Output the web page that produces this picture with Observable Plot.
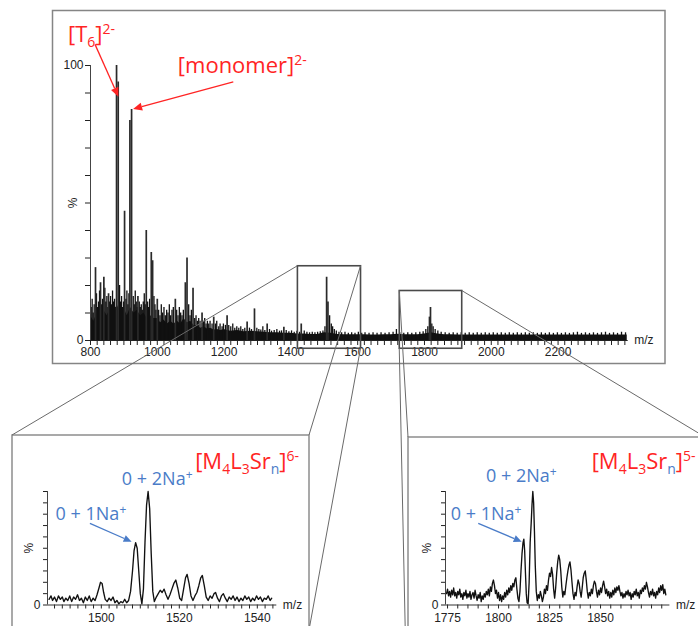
<!DOCTYPE html>
<html>
<head>
<meta charset="utf-8">
<script src="https://cdn.jsdelivr.net/npm/d3@7"></script>
<script src="https://cdn.jsdelivr.net/npm/@observablehq/plot@0.6"></script>
<style>
  html, body { margin: 0; padding: 0; background: #fff; }
  #figure { position: relative; width: 698px; height: 626px; overflow: hidden; background: #fff; }
  #figure svg { position: absolute; }
</style>
</head>
<body>
<div id="figure"></div>
<script>
// ---------- Full-range spectrum (m/z 800–2410, % relative intensity) ----------
// Labelled major peaks: [m/z, %]
const mainPeaks = [
  [815, 26.5], [830, 21], [840, 23], [854, 17], [878, 100], [883, 94], [902, 47],
  [918, 80], [923, 84], [942, 16], [967, 40], [982, 32], [986, 29], [1000, 15],
  [1054, 15], [1084, 21], [1089, 30], [1107, 19], [1134, 10], [1169, 8.5], [1209, 9],
  [1269, 6.7], [1291, 11.5], [1329, 6], [1379, 4.8], [1431, 6], [1507, 23], [1511, 14],
  [1815, 8.5], [1818, 12]
];
// Dense chemical-noise floor: [m/z, %]
const mainFloor = [
  [800, 9], [810, 7], [820, 10], [830, 8], [840, 11], [850, 9], [860, 12], [870, 10], [880, 13], [890, 10],
  [900, 12], [910, 9], [920, 12], [930, 10], [940, 11], [950, 9], [960, 10], [970, 8], [980, 9], [990, 8],
  [1000, 8], [1010, 6.5], [1020, 7.5], [1030, 6], [1040, 7], [1050, 6], [1060, 7], [1070, 6], [1080, 8], [1090, 6.5],
  [1100, 7], [1110, 5.5], [1120, 5.5], [1130, 4.5], [1140, 5], [1150, 4.2], [1160, 4.5], [1170, 3.8], [1180, 4], [1190, 3.6],
  [1200, 4], [1220, 3.4], [1240, 3.6], [1260, 3.2], [1280, 3.4], [1300, 3.2], [1320, 3], [1340, 2.8], [1360, 2.8], [1380, 2.6],
  [1400, 2.6], [1420, 2.4], [1440, 2.4], [1460, 2.2], [1480, 2.2], [1500, 2.8], [1520, 2.6], [1540, 2.2], [1560, 2.1], [1580, 2.1],
  [1600, 2.1], [1620, 2.1], [1640, 2], [1660, 2], [1680, 2.1], [1700, 2.1], [1720, 2.3], [1740, 2.1], [1760, 2.1], [1780, 2.1],
  [1800, 2.4], [1820, 2.8], [1840, 2.4], [1860, 2.1], [1880, 2.1], [1900, 2], [1940, 2], [1980, 2], [2020, 2], [2060, 2],
  [2100, 2], [2140, 2], [2180, 2], [2220, 2], [2260, 2], [2300, 2], [2340, 2], [2380, 2], [2407, 2]
];
// Minor peaks riding on the noise: [m/z, %]
const mainSticks = [
  [802, 12], [805, 15], [808, 10], [811, 13], [818, 17], [821, 12], [824, 14], [827, 18], [833, 13], [836, 15],
  [843, 19], [846, 14], [849, 16], [852, 12], [857, 14], [860, 16], [863, 13], [866, 18], [869, 14], [872, 15],
  [875, 12], [887, 20], [890, 14], [893, 16], [896, 12], [899, 14], [906, 15], [909, 18], [912, 13], [915, 17],
  [928, 16], [931, 13], [934, 18], [937, 14], [940, 12], [946, 14], [949, 12], [952, 13], [955, 11], [958, 14],
  [961, 17], [964, 13], [971, 14], [974, 12], [977, 15], [990, 16], [993, 13], [996, 11],
  [1004, 11], [1008, 9], [1012, 13], [1016, 10], [1020, 12], [1024, 9], [1028, 11], [1032, 10], [1036, 13], [1040, 9],
  [1044, 11], [1048, 12], [1058, 11], [1062, 9], [1066, 12], [1070, 10], [1074, 9], [1078, 11], [1094, 13], [1098, 9],
  [1102, 11], [1112, 8], [1116, 9], [1120, 7], [1124, 8], [1128, 7], [1138, 7], [1142, 8], [1146, 6], [1150, 7],
  [1154, 6], [1158, 7], [1164, 6], [1174, 6], [1178, 7], [1184, 5], [1188, 6], [1194, 5], [1198, 6], [1204, 5.5],
  [1214, 5.5], [1220, 5], [1226, 6], [1232, 4.5], [1238, 5], [1244, 4.5], [1250, 5], [1256, 4], [1262, 4.5], [1276, 4.5],
  [1282, 4], [1298, 4.5], [1304, 4], [1310, 3.8], [1316, 5], [1322, 3.6], [1336, 4], [1342, 3.4], [1350, 3.6], [1358, 4],
  [1366, 3.4], [1372, 3.5], [1386, 3.6], [1394, 3.2], [1402, 3.5], [1410, 3], [1418, 3.4], [1426, 3], [1440, 3.5], [1448, 3],
  [1456, 2.8], [1464, 3], [1472, 2.8], [1480, 3], [1488, 3.2], [1496, 3.5], [1502, 5], [1516, 9], [1521, 6], [1525, 5],
  [1530, 4], [1536, 3.5], [1544, 3], [1552, 2.8], [1562, 3], [1572, 2.6], [1582, 2.8], [1592, 2.6], [1602, 3], [1612, 2.6],
  [1622, 2.8], [1634, 2.6], [1646, 2.8], [1658, 2.6], [1670, 2.8], [1682, 2.6], [1694, 2.8], [1706, 3], [1716, 4], [1726, 2.8],
  [1738, 2.6], [1750, 2.8], [1762, 2.6], [1774, 2.8], [1786, 3], [1796, 3.2], [1804, 4], [1810, 5], [1822, 6], [1826, 5],
  [1832, 4], [1840, 3.5], [1850, 3], [1862, 2.8], [1874, 2.6], [1886, 2.8], [1898, 2.6], [1910, 2.8], [1922, 2.6], [1934, 2.8],
  [1946, 2.6], [1958, 2.8], [1970, 2.6], [1982, 2.8], [1994, 2.6], [2006, 2.8], [2018, 2.6], [2030, 2.8], [2042, 2.6], [2054, 2.8],
  [2066, 2.6], [2078, 2.8], [2090, 2.6], [2102, 2.8], [2114, 2.6], [2126, 2.8], [2138, 2.6], [2150, 2.8], [2162, 2.6], [2174, 2.8],
  [2186, 2.6], [2198, 2.8], [2210, 2.6], [2222, 2.8], [2234, 2.6], [2246, 2.8], [2258, 3], [2270, 2.6], [2282, 2.8], [2294, 2.6],
  [2306, 2.8], [2318, 2.6], [2330, 2.8], [2342, 3], [2354, 2.6], [2366, 2.8], [2378, 2.6], [2390, 3], [2402, 2.8]
];
// Expanded windows marked on the full spectrum (m/z range, % range)
const zoomWindows = [
  {x1: 1421, x2: 1610, y1: -3, y2: 27},
  {x1: 1726, x2: 1913, y1: -3, y2: 18}
];

// ---------- Expansion of the 6- charge state (m/z, %) ----------
const leftProfile = [
  [1486.6,5],[1487.1,8],[1487.5,4],[1488,7],[1488.5,3],[1489,8],[1489.5,5],[1490,7],[1490.4,3],[1490.9,6],
  [1491.4,4],[1491.9,8],[1492.4,3],[1492.9,7],[1493.4,5],[1493.9,9],[1494.4,4],[1494.9,6],[1495.4,2],[1495.9,7],
  [1496.4,4],[1496.9,8],[1497.4,3],[1497.9,6],[1498.4,4],[1498.9,9],[1499.4,15],[1499.8,20],[1500.2,19],[1500.6,11],
  [1501,5],[1501.5,3],[1502,6],[1502.5,4],[1503,7],[1503.5,2],[1504,4],[1504.5,1],[1505,3],[1505.5,2],
  [1506,5],[1506.5,2],[1507,4],[1507.5,12],[1508,30],[1508.4,48],[1508.8,55],[1509.2,50],[1509.6,30],[1510,10],
  [1510.4,1],[1510.8,14],[1511.2,55],[1511.6,88],[1512,100],[1512.4,85],[1512.8,45],[1513.2,12],[1513.6,3],[1514.1,7],
  [1514.6,10],[1515.1,13],[1515.6,11],[1516.1,14],[1516.6,9],[1517.1,5],[1517.6,9],[1518.1,14],[1518.6,19],[1519.1,22],
  [1519.6,15],[1520.1,6],[1520.6,4],[1521.1,14],[1521.6,24],[1522,27],[1522.5,19],[1523,8],[1523.5,4],[1524,8],
  [1524.5,11],[1525,17],[1525.5,24],[1525.9,26],[1526.4,17],[1526.9,7],[1527.4,4],[1527.9,8],[1528.4,6],[1528.9,10],
  [1529.3,11],[1529.8,6],[1530.3,3],[1530.8,8],[1531.3,10],[1531.8,6],[1532.3,3],[1532.8,7],[1533.3,5],[1533.8,8],
  [1534.3,4],[1534.8,7],[1535.3,3],[1535.8,6],[1536.3,4],[1536.8,8],[1537.3,5],[1537.8,7],[1538.3,3],[1538.8,6],
  [1539.3,4],[1539.8,8],[1540.3,5],[1540.8,7],[1541.3,3],[1541.8,6],[1542.3,5],[1542.8,8],[1543.3,4],[1543.7,6]
];

// ---------- Expansion of the 5- charge state (m/z, %) ----------
const rightProfile = [
  [1774.5,10],[1775,14],[1775.5,8],[1776,12],[1776.5,7],[1777,13],[1777.5,9],[1778,15],[1778.5,8],[1779,11],
  [1779.5,6],[1780,12],[1780.5,9],[1781,14],[1781.5,7],[1782,10],[1782.5,5],[1783,11],[1783.5,8],[1784,13],
  [1784.5,6],[1785,10],[1785.5,7],[1786,12],[1786.5,5],[1787,9],[1787.5,11],[1788,6],[1788.5,13],[1789,8],
  [1789.5,4],[1790,9],[1790.5,6],[1791,11],[1791.5,3],[1792,8],[1792.5,5],[1793,10],[1793.5,7],[1794,12],
  [1794.5,9],[1795,14],[1795.5,8],[1796,16],[1796.5,12],[1797,19],[1797.5,22],[1798,17],[1798.5,10],[1799,13],
  [1799.5,6],[1800,11],[1800.5,4],[1801,9],[1801.5,3],[1802,8],[1802.5,5],[1803,11],[1803.5,7],[1804,13],
  [1804.5,9],[1805,15],[1805.5,11],[1806,17],[1806.5,13],[1807,19],[1807.5,16],[1808,22],[1808.5,24],[1809,14],
  [1809.5,6],[1810,3],[1810.5,12],[1811,30],[1811.5,45],[1812,55],[1812.4,58],[1812.8,48],[1813.2,28],[1813.6,10],
  [1814,2],[1814.5,1],[1815,20],[1815.5,55],[1816,72],[1816.4,88],[1816.8,100],[1817.2,90],[1817.6,65],[1818,35],
  [1818.5,12],[1819,4],[1819.5,9],[1820,6],[1820.5,12],[1821,8],[1821.5,3],[1822,7],[1822.5,14],[1823,10],
  [1823.5,17],[1824,13],[1824.5,22],[1825,28],[1825.5,25],[1826,33],[1826.5,27],[1827,14],[1827.5,6],[1828,15],
  [1828.5,28],[1829,38],[1829.5,44],[1830,40],[1830.5,30],[1831,16],[1831.5,7],[1832,12],[1832.5,9],[1833,17],
  [1833.5,24],[1834,30],[1834.5,35],[1835,38],[1835.5,31],[1836,20],[1836.5,10],[1837,5],[1837.5,11],[1838,8],
  [1838.5,16],[1839,22],[1839.5,19],[1840,12],[1840.5,7],[1841,15],[1841.5,24],[1842,28],[1842.5,30],[1843,22],
  [1843.5,12],[1844,6],[1844.5,11],[1845,8],[1845.5,14],[1846,10],[1846.5,17],[1847,21],[1847.5,19],[1848,12],
  [1848.5,7],[1849,13],[1849.5,9],[1850,15],[1850.5,11],[1851,17],[1851.5,21],[1852,16],[1852.5,10],[1853,14],
  [1853.5,8],[1854,12],[1854.5,6],[1855,11],[1855.5,7],[1856,13],[1856.5,9],[1857,15],[1857.5,11],[1858,16],
  [1858.5,13],[1859,17],[1859.5,12],[1860,8],[1860.5,11],[1861,6],[1861.5,10],[1862,7],[1862.5,12],[1863,9],
  [1863.5,13],[1864,8],[1864.5,11],[1865,5],[1865.5,10],[1866,7],[1866.5,12],[1867,9],[1867.5,14],[1868,8],
  [1868.5,11],[1869,6],[1869.5,13],[1870,10],[1870.5,15],[1871,12],[1871.5,17],[1872,14],[1872.5,20],[1873,16],
  [1873.5,11],[1874,7],[1874.5,12],[1875,9],[1875.5,14],[1876,8],[1876.5,11],[1877,6],[1877.5,12],[1878,9],
  [1878.5,15],[1879,11],[1879.5,17],[1880,13],[1880.5,18],[1881,10],[1881.5,14],[1882,9]
];

// ---------- Annotation text ----------
const RED = "#ff2424", BLUE = "#4a7cc8";
const mainNotes = [
  {x: 734, y: 108.4, parts: [{t: "[T"}, {t: "6", sub: true}, {t: "]"}, {t: "2-", sup: true}]},
  {x: 1063, y: 97.1, parts: [{t: "[monomer]"}, {t: "2-", sup: true}]}
];
const mainArrows = [
  {x1: 815, y1: 107.5, x2: 885, y2: 88.5},
  {x1: 1229, y1: 93.9, x2: 929, y2: 84}
];
const clusterParts = (z) => [
  {t: "[M"}, {t: "4", sub: true}, {t: "L"}, {t: "3", sub: true}, {t: "Sr"},
  {t: "n", sub: true, color: BLUE}, {t: "]"}, {t: z, sup: true}
];
const leftNotes = {
  cluster: {x: 1524.2, y: 119.1, parts: clusterParts("6-")},
  ions: [
    {x: 1505.4, y: 105.3, parts: [{t: "0 + 2Na"}, {t: "+", sup: true}]},
    {x: 1488.4, y: 74.4, parts: [{t: "0 + 1Na"}, {t: "+", sup: true}]}
  ],
  arrow: {x1: 1497.2, y1: 71.5, x2: 1507.9, y2: 55.3}
};
const rightNotes = {
  cluster: {x: 1845.9, y: 119, parts: clusterParts("5-")},
  ions: [
    {x: 1794.1, y: 108.2, parts: [{t: "0 + 2Na"}, {t: "+", sup: true}]},
    {x: 1776.8, y: 74.4, parts: [{t: "0 + 1Na"}, {t: "+", sup: true}]}
  ],
  arrow: {x1: 1790.3, y1: 71.5, x2: 1811.6, y2: 55.3}
};

// ---------- Drawing ----------
const figure = document.getElementById("figure");
const axisFont = "'Liberation Sans', Arial, sans-serif";
const baseStyle = {background: "transparent", overflow: "visible", fontFamily: axisFont, fontSize: "12px", color: "#222"};

function place(svg, left, top) {
  svg.style.left = left + "px";
  svg.style.top = top + "px";
  figure.appendChild(svg);
  return svg;
}

// rich text with sub/superscripts, anchored at its baseline start
function richText(svg, xs, ys, note, size, small, color) {
  const t = d3.select(svg).append("text")
    .attr("x", xs(note.x)).attr("y", ys(note.y))
    .attr("text-anchor", "start")
    .attr("font-family", "'Open Sans', sans-serif")
    .attr("font-size", size).attr("fill", color);
  let shift = 0;
  for (const p of note.parts) {
    const target = p.sup ? -Math.round(size * 0.36) : p.sub ? Math.round(size * 0.22) : 0;
    t.append("tspan")
      .attr("dy", target - shift)
      .attr("font-size", p.sup || p.sub ? small : size)
      .attr("fill", p.color || color)
      .text(p.t);
    shift = target;
  }
}

function arrow(svg, xs, ys, a, color, head = 8, half = 3.6) {
  const x1 = xs(a.x1), y1 = ys(a.y1), x2 = xs(a.x2), y2 = ys(a.y2);
  const ang = Math.atan2(y2 - y1, x2 - x1);
  const bx = x2 - head * Math.cos(ang), by = y2 - head * Math.sin(ang);
  const g = d3.select(svg).append("g");
  g.append("line").attr("x1", x1).attr("y1", y1).attr("x2", bx).attr("y2", by)
    .attr("stroke", color).attr("stroke-width", 1.3);
  g.append("path")
    .attr("d", `M${x2},${y2}L${bx - half * Math.sin(ang)},${by + half * Math.cos(ang)}L${bx + half * Math.sin(ang)},${by - half * Math.cos(ang)}Z`)
    .attr("fill", color);
}

// Full spectrum
const mainPlot = Plot.plot({
  width: 698, height: 370,
  marginLeft: 90, marginRight: 70.3, marginTop: 65, marginBottom: 30,
  style: baseStyle,
  x: {domain: [800, 2410], ticks: d3.range(800, 2401, 20), tickFormat: d => (d % 200 === 0 && d <= 2200) ? String(d) : "", tickSize: 5, tickPadding: 2, label: null},
  y: {domain: [0, 100], ticks: d3.range(0, 101, 10), tickFormat: d => d % 100 === 0 ? String(d) : "", tickSize: 5, tickPadding: 2, label: null},
  marks: [
    Plot.areaY(mainFloor, {x: d => d[0], y: d => d[1], fill: "#111"}),
    Plot.ruleX(mainSticks, {x: d => d[0], y1: 0, y2: d => d[1], stroke: "#111", strokeWidth: 1.3}),
    Plot.ruleX(mainPeaks, {x: d => d[0], y1: 0, y2: d => d[1], stroke: "#2a2a2a", strokeWidth: 1.7}),
    Plot.ruleY([0], {stroke: "#222", strokeWidth: 1.2}),
    Plot.ruleX([800], {y1: 0, y2: 100, stroke: "#444"}),
    Plot.rect(zoomWindows, {x1: "x1", x2: "x2", y1: "y1", y2: "y2", fill: "none", stroke: "#4a4a4a", strokeWidth: 1.6}),
    Plot.text(["m/z"], {x: () => 2410, y: () => 0, text: d => d, textAnchor: "start", dx: 6, fill: "#222"}),
    Plot.text(["%"], {x: () => 800, y: () => 50, text: d => d, rotate: -90, dx: -17, fill: "#222"})
  ]
});
place(mainPlot, 0, 0);
{
  const xs = mainPlot.scale("x").apply, ys = mainPlot.scale("y").apply;
  for (const a of mainArrows) arrow(mainPlot, xs, ys, a, RED, 9, 4);
  for (const n of mainNotes) richText(mainPlot, xs, ys, n, 22, 14, RED);
}

// Expanded spectra
function inset(profile, opts) {
  const [d0, d1] = opts.domain;
  return Plot.plot({
    width: opts.width, height: 196,
    marginLeft: opts.marginLeft, marginRight: opts.marginRight, marginTop: 61, marginBottom: 21.5,
    style: baseStyle,
    x: {domain: opts.domain, ticks: opts.ticks, tickFormat: opts.tickFormat, tickSize: 4, tickPadding: 4, label: null},
    y: {domain: [0, 100], ticks: d3.range(0, 101, 10), tickFormat: d => d === 0 ? "0" : "", tickSize: 4, tickPadding: 3, label: null},
    marks: [
      Plot.ruleY([0], {stroke: "#333"}),
      Plot.ruleX([d0], {y1: 0, y2: 100, stroke: "#444"}),
      Plot.line(profile, {x: d => d[0], y: d => d[1], stroke: "#111", strokeWidth: 1.35}),
      Plot.text(["m/z"], {x: () => d1, y: () => 0, text: d => d, textAnchor: "start", dx: 6, fill: "#222"}),
      Plot.text(["%"], {x: () => d0, y: () => 50, text: d => d, rotate: -90, dx: -18, fill: "#222"})
    ]
  });
}

const leftPlot = inset(leftProfile, {
  width: 320, marginLeft: 47, marginRight: 43.7, domain: [1486.2, 1545],
  ticks: d3.range(1488, 1545, 2), tickFormat: d => d % 20 === 0 ? String(d) : ""
});
place(leftPlot, 0, 430);
const rightPlot = inset(rightProfile, {
  width: 298, marginLeft: 45, marginRight: 28.6, domain: [1774, 1884],
  ticks: d3.range(1775, 1884, 5), tickFormat: d => (d % 25 === 0 && d <= 1850) ? String(d) : ""
});
place(rightPlot, 400, 430);

for (const [p, notes] of [[leftPlot, leftNotes], [rightPlot, rightNotes]]) {
  const xs = p.scale("x").apply, ys = p.scale("y").apply;
  arrow(p, xs, ys, notes.arrow, BLUE, 8, 3.6);
  for (const n of notes.ions) richText(p, xs, ys, n, 18, 12, BLUE);
  richText(p, xs, ys, notes.cluster, 22, 14, RED);
}

// Frames and the lines tying each marked window to its expansion
const overlay = d3.create("svg").attr("width", 698).attr("height", 626)
  .style("left", "0px").style("top", "0px").style("pointer-events", "none");
const frameStroke = "#858585";
overlay.append("rect").attr("x", 52.5).attr("y", 10.5).attr("width", 612.5).attr("height", 353)
  .attr("fill", "none").attr("stroke", frameStroke).attr("stroke-width", 1.5);
const leftFrame = {x0: 12, y0: 435, x1: 309, y1: 630};
const rightFrame = {x0: 408, y0: 437, x1: 705, y1: 760};
for (const f of [leftFrame, rightFrame]) {
  overlay.append("rect").attr("x", f.x0).attr("y", f.y0).attr("width", f.x1 - f.x0).attr("height", f.y1 - f.y0)
    .attr("fill", "none").attr("stroke", frameStroke).attr("stroke-width", 1.4);
}
{
  const xs = mainPlot.scale("x").apply, ys = mainPlot.scale("y").apply;
  const [w1, w2] = zoomWindows;
  const links = [
    [xs(w1.x1), ys(w1.y2), leftFrame.x0, leftFrame.y0],
    [xs(w1.x2), ys(w1.y2), leftFrame.x1, leftFrame.y0],
    [xs(w1.x2), ys(w1.y1), leftFrame.x1, leftFrame.y1],
    [xs(w2.x1), ys(w2.y2), rightFrame.x0, rightFrame.y0],
    [xs(w2.x1), ys(w2.y1), rightFrame.x0, rightFrame.y1],
    [xs(w2.x2), ys(w2.y2), rightFrame.x1, rightFrame.y0]
  ];
  overlay.selectAll("line.link").data(links).join("line")
    .attr("x1", d => d[0]).attr("y1", d => d[1]).attr("x2", d => d[2]).attr("y2", d => d[3])
    .attr("stroke", "#6a6a6a").attr("stroke-width", 1);
}
figure.appendChild(overlay.node());
</script>
</body>
</html>
